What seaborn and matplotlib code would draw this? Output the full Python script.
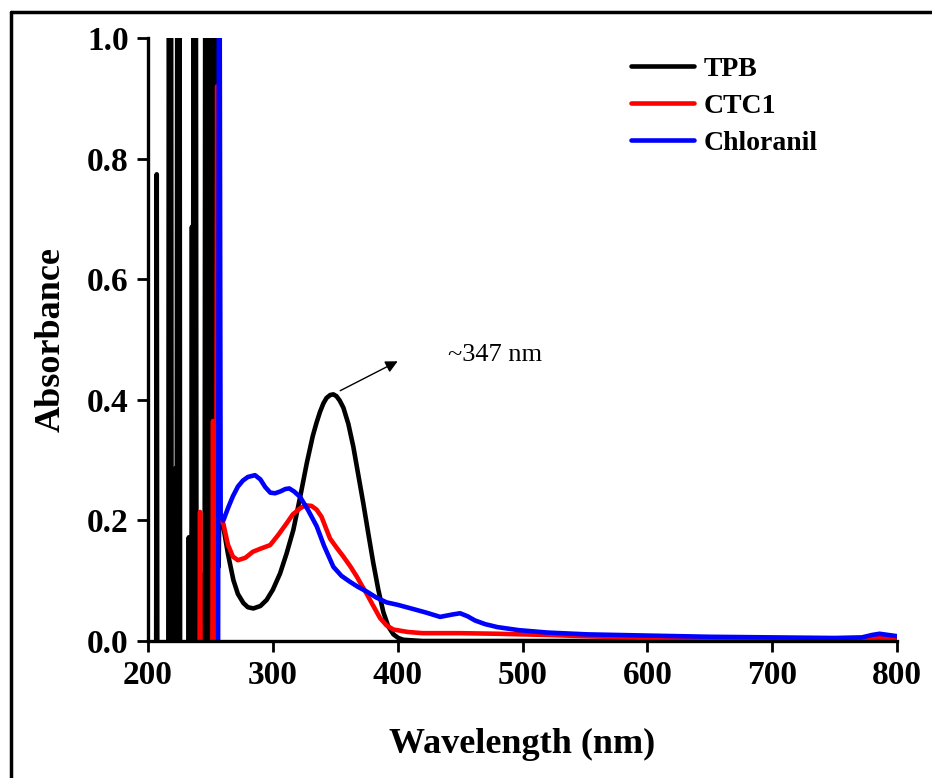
import matplotlib
matplotlib.use('Agg')
import pandas as pd
import matplotlib.pyplot as plt
import seaborn as sns
from matplotlib.lines import Line2D

# TPB spectrum (noisy spikes below 260 nm, then the 347 nm band)
tpb_nm = [203, 206.4, 207, 207.6, 216.2, 216.8, 217.6, 218.4, 219.0,
          221.8, 222.3, 222.8, 223.6, 224.4, 225.2, 225.8,
          232.2, 232.7, 233.2, 234.6, 235.2, 235.8, 236.6, 237.4, 238.2, 239.0,
          244.2, 244.7, 245.2, 246.0, 246.8, 247.6, 248.4, 249.2, 250.0, 250.8,
          251.6, 252.4, 253.2, 254.0, 254.8, 255.6, 256.6, 257.2, 258.0,
          260.3, 264, 268.4, 272, 276.4, 280, 284.4, 290, 295, 300, 305.8, 311,
          316.4, 322, 327.2, 332, 335, 337.8, 340.5, 343, 346, 348.5, 351, 353.5,
          356.5, 360.5, 364.5, 368.5, 372.5, 376.5, 380.5, 384.5, 388.5, 392.5,
          396.6, 400.5, 404.6, 420, 500, 600, 700, 800]
tpb_abs = [-0.3, -0.3, 0.774, -0.3, -0.3, 1.5, -0.3, 1.5, -0.3,
           -0.3, 0.287, -0.3, 1.5, -0.3, 1.5, -0.3,
           -0.3, 0.172, -0.3, -0.3, 0.687, -0.3, 1.5, -0.3, 1.5, -0.3,
           -0.3, 0.11, -0.3, 1.5, -0.3, 1.5, -0.3, 1.5, -0.3, 1.5,
           -0.3, 1.5, -0.3, 1.5, -0.3, 1.5, 0.123, 0.239, 0.2,
           0.19, 0.145, 0.101, 0.078, 0.063, 0.056, 0.054, 0.058, 0.068, 0.085, 0.112, 0.145,
           0.184, 0.24, 0.295, 0.34, 0.362, 0.38, 0.394, 0.403, 0.408, 0.409, 0.406, 0.399,
           0.387, 0.36, 0.322, 0.275, 0.228, 0.178, 0.129, 0.085, 0.048, 0.024,
           0.011, 0.005, 0.002, 0.0, 0.0, 0.0, 0.0, 0.0]

# CTC1 spectrum
ctc_nm = [238, 240.9, 241.7, 242.5, 251.2, 252.1, 253.0, 254.2, 255.4, 256.4, 257,
          260.3, 264, 268, 272, 278, 284, 290, 297.8, 304, 311, 316, 321.8, 326,
          331, 335, 339, 342, 345.8, 351, 356.5, 362, 367.2, 371, 375, 380, 385.9,
          391, 396.6, 408, 420, 450, 480, 520, 550, 600, 650, 700, 760, 775, 785,
          792, 800]
ctc_abs = [-0.3, -0.3, 0.214, -0.3, -0.3, 0.365, -0.3, -0.3, 0.92, 0.25, 0.2,
           0.195, 0.16, 0.14, 0.134, 0.138, 0.148, 0.153, 0.159, 0.175, 0.195, 0.21, 0.22, 0.225,
           0.224, 0.218, 0.206, 0.19, 0.17, 0.155, 0.14, 0.124, 0.107, 0.093, 0.079, 0.06, 0.038,
           0.026, 0.019, 0.015, 0.013, 0.013, 0.012, 0.01, 0.008, 0.005, 0.004, 0.003, 0.002, 0.002, 0.006,
           0.004, 0.001]

# Chloranil spectrum
chl_nm = [256, 257, 258.2, 260.4, 264, 268, 272, 276, 280, 285.7, 290, 294, 298,
          301.8, 306, 310, 313.2, 317, 321.8, 328, 335.2, 341, 348.5, 355, 361.9,
          368, 375.2, 383, 391.2, 400, 412.5, 423, 434, 444, 450, 456, 462, 470,
          480, 497, 520, 552, 600, 650, 700, 750, 772, 780, 786, 793, 800]
chl_abs = [-0.3, 1.5, 0.21, 0.2, 0.22, 0.24, 0.256, 0.266, 0.272, 0.275, 0.268, 0.255, 0.246,
           0.245, 0.248, 0.252, 0.253, 0.248, 0.239, 0.218, 0.19, 0.158, 0.123, 0.108, 0.098,
           0.09, 0.082, 0.072, 0.064, 0.06, 0.053, 0.047, 0.04, 0.044, 0.046, 0.041, 0.034, 0.028,
           0.023, 0.018, 0.014, 0.011, 0.009, 0.007, 0.006, 0.005, 0.006, 0.01, 0.012, 0.01, 0.008]

sns.set_style('ticks')
plt.rcParams['font.family'] = ['Liberation Serif', 'DejaVu Serif']
plt.rcParams['text.color'] = 'black'
plt.rcParams['axes.labelcolor'] = 'black'

fig = plt.figure(figsize=(9.32, 7.78), dpi=100)
ax = fig.add_axes([148 / 932, 1 - 641 / 778, 749 / 932, 603 / 778])

series = [('TPB', tpb_nm, tpb_abs, 'black'),
          ('CTC1', ctc_nm, ctc_abs, 'red'),
          ('Chloranil', chl_nm, chl_abs, 'blue')]
for name, nm, ab, col in series:
    df = pd.DataFrame({'Wavelength': nm, 'Absorbance': ab})
    sns.lineplot(data=df, x='Wavelength', y='Absorbance', sort=False, estimator=None,
                 color=col, lw=3.3, label=name, ax=ax)

ax.set_xlim(200, 800)
ax.set_ylim(0, 1.0)
ax.set_xticks([200, 300, 400, 500, 600, 700, 800])
ax.set_yticks([0.0, 0.2, 0.4, 0.6, 0.8, 1.0])
ax.set_yticklabels(['0.0', '0.2', '0.4', '0.6', '0.8', '1.0'])
for s in ['top', 'right']:
    ax.spines[s].set_visible(False)
for s in ['left', 'bottom']:
    ax.spines[s].set_linewidth(2.4)
    ax.spines[s].set_color('black')
ax.tick_params(axis='both', direction='out', length=8, width=2, labelsize=24,
               colors='black', pad=6)
for lab in ax.get_xticklabels() + ax.get_yticklabels():
    lab.set_fontweight('bold')

ax.set_xlabel('Wavelength (nm)', fontsize=26, fontweight='bold', labelpad=26)
ax.set_ylabel('Absorbance', fontsize=26, fontweight='bold', labelpad=14)

ax.annotate('', xy=(402, 0.466), xytext=(352, 0.413),
            arrowprops=dict(arrowstyle='-|>', lw=1, color='black', mutation_scale=18))
ax.text(440, 0.474, '~347 nm', fontsize=19, va='center', ha='left')

leg = ax.legend(loc='upper left', bbox_to_anchor=(0.645, 0.97), frameon=False,
                borderpad=0, borderaxespad=0, handlelength=2.27, handletextpad=0.35,
                labelspacing=0.42, prop={'size': 20, 'weight': 'bold'})
for h in leg.get_lines():
    h.set_linewidth(3.3)

# outer frame of the original figure
fig.add_artist(Line2D([10.5 / 932, 10.5 / 932], [0, 1 - 12 / 778], color='black', lw=2.5))
fig.add_artist(Line2D([10.5 / 932, 1], [1 - 12 / 778, 1 - 12 / 778], color='black', lw=2.5))

fig.savefig('out.png', dpi=100)
